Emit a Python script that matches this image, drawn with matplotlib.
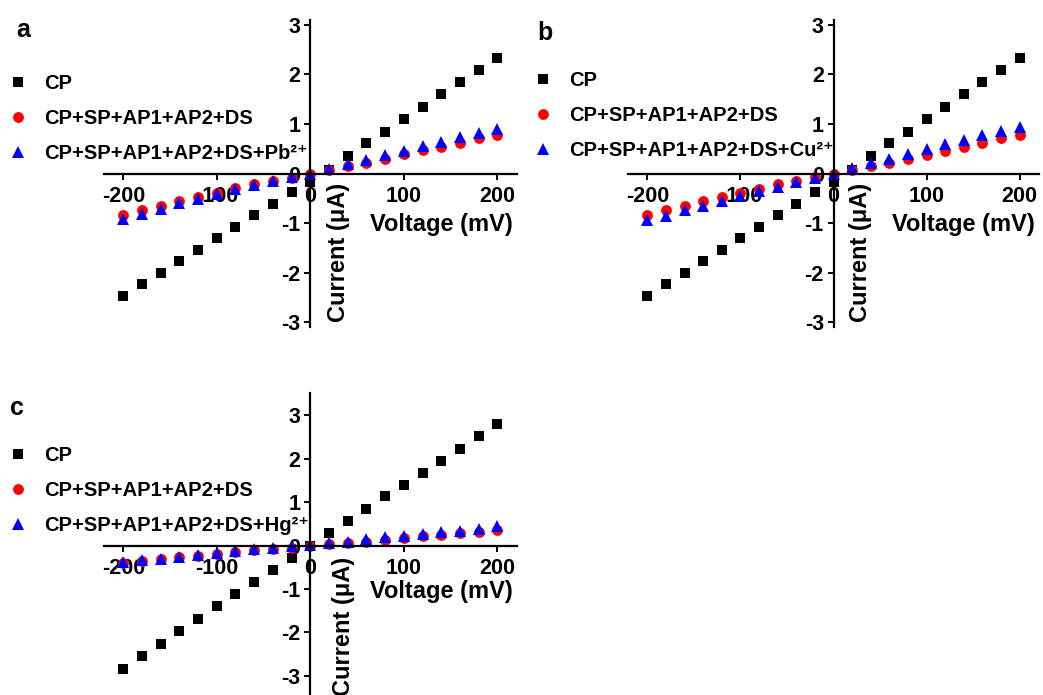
import numpy as np
import matplotlib
matplotlib.use("Agg")
import matplotlib.pyplot as plt

plt.rcParams['font.family'] = ['Liberation Sans', 'DejaVu Sans']
plt.rcParams['font.weight'] = 'bold'
plt.rcParams['axes.unicode_minus'] = False

# Data (voltage in mV, current in uA)
voltage = list(range(-200, 201, 20))

cp_a = [-2.48, -2.24, -2.01, -1.76, -1.54, -1.30, -1.08, -0.84, -0.61, -0.37, -0.17,
        0.08, 0.35, 0.61, 0.84, 1.10, 1.35, 1.60, 1.85, 2.09, 2.34]
ds_a = [-0.83, -0.74, -0.65, -0.56, -0.47, -0.39, -0.30, -0.22, -0.15, -0.09, -0.01,
        0.07, 0.15, 0.22, 0.30, 0.39, 0.47, 0.54, 0.62, 0.71, 0.77]
pb_a = [-0.91, -0.81, -0.71, -0.59, -0.52, -0.42, -0.32, -0.24, -0.15, -0.08, 0.00,
        0.10, 0.20, 0.28, 0.37, 0.46, 0.55, 0.64, 0.73, 0.82, 0.90]

cp_b = [-2.48, -2.24, -2.01, -1.77, -1.54, -1.30, -1.08, -0.84, -0.61, -0.37, -0.17,
        0.08, 0.35, 0.61, 0.84, 1.10, 1.35, 1.60, 1.85, 2.09, 2.34]
ds_b = [-0.83, -0.74, -0.65, -0.56, -0.47, -0.39, -0.32, -0.22, -0.15, -0.07, 0.00,
        0.08, 0.15, 0.22, 0.30, 0.38, 0.46, 0.54, 0.62, 0.71, 0.78]
cu_b = [-0.94, -0.86, -0.74, -0.65, -0.56, -0.46, -0.36, -0.27, -0.17, -0.09, 0.00,
        0.12, 0.22, 0.30, 0.39, 0.49, 0.59, 0.67, 0.78, 0.86, 0.94]

cp_c = [-2.84, -2.54, -2.26, -1.97, -1.69, -1.40, -1.11, -0.84, -0.56, -0.28, 0.00,
        0.29, 0.56, 0.84, 1.13, 1.39, 1.68, 1.95, 2.22, 2.51, 2.80]
ds_c = [-0.40, -0.36, -0.31, -0.27, -0.23, -0.19, -0.15, -0.11, -0.09, -0.05, 0.00,
        0.04, 0.06, 0.09, 0.13, 0.17, 0.21, 0.25, 0.28, 0.32, 0.36]
hg_c = [-0.38, -0.34, -0.31, -0.27, -0.21, -0.18, -0.13, -0.09, -0.05, -0.02, 0.02,
        0.05, 0.09, 0.14, 0.19, 0.23, 0.27, 0.31, 0.34, 0.38, 0.44]

base_labels = ['CP', 'CP+SP+AP1+AP2+DS']
ion_labels = ['CP+SP+AP1+AP2+DS+Pb²⁺',
              'CP+SP+AP1+AP2+DS+Cu²⁺',
              'CP+SP+AP1+AP2+DS+Hg²⁺']

W, H = 1043, 695
fig = plt.figure(figsize=(W / 100, H / 100), dpi=100)


def px_axes(x0, y0, x1, y1):
    # pixel box (top-left origin) -> figure axes
    return fig.add_axes([x0 / W, 1 - y1 / H, (x1 - x0) / W, (y1 - y0) / H])


def iv_panel(ax, cp, ds, ion, ion_label, xlim, ylim, letter, letter_xy,
             leg_xy, ylab_x, ylab_y, xlab_y):
    ax.plot(voltage, cp, ls='none', marker='s', ms=7.2, mew=0, color='black',
            label=base_labels[0])
    ax.plot(voltage, ds, ls='none', marker='o', ms=7.8, mew=0, color='#ff0000',
            label=base_labels[1])
    ax.plot(voltage, ion, ls='none', marker='^', ms=8.6, mew=0, color='#0000ff',
            label=ion_label)
    ax.set_xlim(*xlim)
    ax.set_ylim(*ylim)
    for s in ['top', 'right']:
        ax.spines[s].set_visible(False)
    for s in ['left', 'bottom']:
        ax.spines[s].set_position('zero')
        ax.spines[s].set_linewidth(1.6)
    ax.set_xticks([-200, -100, 0, 100, 200])
    ax.set_yticks([-3, -2, -1, 0, 1, 2, 3])
    ax.tick_params(axis='x', direction='out', length=4, width=1.4, pad=5,
                   labelsize=15.5)
    ax.tick_params(axis='y', direction='out', length=4, width=1.4, pad=3,
                   labelsize=15.5)
    for t in ax.get_xticklabels() + ax.get_yticklabels():
        t.set_fontweight('bold')
    ax.patch.set_alpha(0)
    ax.text(140, xlab_y, 'Voltage (mV)', fontsize=17, fontweight='bold',
            ha='center', va='center')
    ax.text(ylab_x, ylab_y, 'Current (μA)', fontsize=17, fontweight='bold',
            rotation=90, ha='center', va='center')
    fig.text(letter_xy[0] / W, 1 - letter_xy[1] / H, letter, fontsize=18,
             fontweight='bold', ha='center', va='center')
    fig.legend(handles=ax.get_lines(), loc='upper left',
               bbox_to_anchor=(leg_xy[0] / W, 1 - leg_xy[1] / H),
               frameon=False, prop={'weight': 'bold', 'size': 14.5},
               handlelength=1.0, handletextpad=0.8, labelspacing=0.8,
               borderpad=0, borderaxespad=0, numpoints=1)


ax_a = px_axes(104, 20, 517, 327)
iv_panel(ax_a, cp_a, ds_a, pb_a, ion_labels[0], (-220.6, 221), (-3.10, 3.10),
         'a', (23, 30), (8, 74), 30, -1.6, -1.02)

ax_b = px_axes(628, 20, 1039, 327)
iv_panel(ax_b, cp_b, ds_b, cu_b, ion_labels[1], (-220.8, 220.8), (-3.10, 3.10),
         'b', (545, 33), (533, 71), 29, -1.6, -1.04)

ax_c = px_axes(104, 393, 517, 695)
iv_panel(ax_c, cp_c, ds_c, hg_c, ion_labels[2], (-220.6, 221), (-3.44, 3.51),
         'c', (17, 408), (8, 446), 35, -1.87, -1.06)

fig.savefig('out.png', dpi=100)
